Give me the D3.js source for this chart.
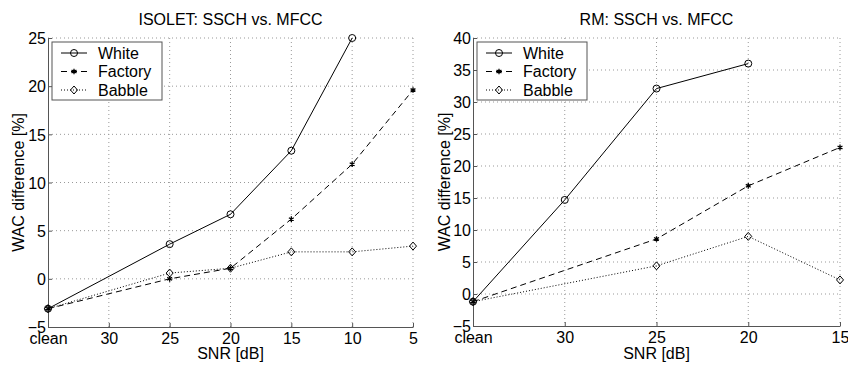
<!DOCTYPE html>
<html>
<head>
<meta charset="utf-8">
<script src="https://cdn.jsdelivr.net/npm/d3@7"></script>
<style>
  body { margin: 0; background: #fff; }
  text { font-family: "Liberation Sans", Arial, Helvetica, sans-serif; fill: #000; }
</style>
</head>
<body>
<div id="chart"></div>
<script>
var svgWidth = 848;
var svgHeight = 365;

// ISOLET panel
var isoletCategories = ["clean", "30", "25", "20", "15", "10", "5"];
var isoletWhite   = [["clean", -3.1], ["25", 3.6], ["20", 6.7], ["15", 13.3], ["10", 25.0]];
var isoletFactory = [["clean", -3.1], ["25", 0.0], ["20", 1.1], ["15", 6.2], ["10", 11.9], ["5", 19.6]];
var isoletBabble  = [["clean", -3.1], ["25", 0.6], ["20", 1.1], ["15", 2.8], ["10", 2.8], ["5", 3.4]];
var isoletYTicks  = [-5, 0, 5, 10, 15, 20, 25];

// RM panel
var rmCategories = ["clean", "30", "25", "20", "15"];
var rmWhite   = [["clean", -1.2], ["30", 14.7], ["25", 32.1], ["20", 36.0]];
var rmFactory = [["clean", -1.2], ["25", 8.6], ["20", 16.9], ["15", 22.9]];
var rmBabble  = [["clean", -1.2], ["25", 4.4], ["20", 9.0], ["15", 2.2]];
var rmYTicks  = [-5, 0, 5, 10, 15, 20, 25, 30, 35, 40];

var seriesNames = ["White", "Factory", "Babble"];

var svg = d3.select("#chart")
    .append("svg")
    .attr("width", svgWidth)
    .attr("height", svgHeight);

var styles = {
    White:   { dash: null,  marker: "circle" },
    Factory: { dash: "6,4", marker: "star" },
    Babble:  { dash: "1,2", marker: "diamond" }
};

function drawMarker(g, type, x, y) {
    if (type === "circle") {
        g.append("circle").attr("cx", x).attr("cy", y).attr("r", 3.5)
            .attr("fill", "none").attr("stroke", "#000").attr("stroke-width", 1);
    } else if (type === "diamond") {
        g.append("path")
            .attr("d", "M" + x + "," + (y - 4) + "L" + (x + 3.5) + "," + y + "L" + x + "," + (y + 4) + "L" + (x - 3.5) + "," + y + "Z")
            .attr("fill", "none").attr("stroke", "#000").attr("stroke-width", 1);
    } else {
        g.append("path")
            .attr("d", d3.symbol().type(d3.symbolAsterisk).size(22)())
            .attr("transform", "translate(" + x + "," + y + ")")
            .attr("fill", "none").attr("stroke", "#000").attr("stroke-width", 1.3);
    }
}

function drawPanel(opts) {
    var x = d3.scalePoint().domain(opts.categories).range([opts.left, opts.right]);
    var y = d3.scaleLinear().domain([-5, opts.yMax]).range([opts.bottom, opts.top]);
    var g = svg.append("g");

    // grid
    g.selectAll(".gx").data(opts.categories.slice(1)).enter().append("line")
        .attr("x1", function(d) { return x(d); }).attr("x2", function(d) { return x(d); })
        .attr("y1", opts.top).attr("y2", opts.bottom)
        .attr("stroke", "#999").attr("stroke-width", 1).attr("stroke-dasharray", "1,3");
    g.selectAll(".gy").data(opts.yTicks.slice(1)).enter().append("line")
        .attr("x1", opts.left).attr("x2", opts.right)
        .attr("y1", function(d) { return y(d); }).attr("y2", function(d) { return y(d); })
        .attr("stroke", "#999").attr("stroke-width", 1).attr("stroke-dasharray", "1,3");

    // axes
    var bottomAxis = d3.axisBottom(x).tickSizeInner(-4).tickSizeOuter(0).tickPadding(6);
    var leftAxis = d3.axisLeft(y).tickValues(opts.yTicks).tickSizeInner(-4).tickSizeOuter(0).tickPadding(2)
        .tickFormat(function(d) { return d < 0 ? "\u2212" + (-d) : d; });

    var xa = g.append("g").attr("transform", "translate(0," + opts.bottom + ")").call(bottomAxis);
    var ya = g.append("g").attr("transform", "translate(" + opts.left + ",0)").call(leftAxis);
    [xa, ya].forEach(function(a) {
        a.select(".domain").attr("stroke", "#555");
        a.selectAll(".tick line").attr("stroke", "#555");
        a.selectAll("text").style("font-size", "16px").attr("fill", "#000")
            .style("font-family", "'Liberation Sans', Arial, Helvetica, sans-serif");
    });
    ya.selectAll("text").attr("dy", "0.36em");
    xa.selectAll("text").attr("dy", "0.71em");

    // series
    var line = d3.line().x(function(d) { return x(d[0]); }).y(function(d) { return y(d[1]); });
    seriesNames.forEach(function(name) {
        var data = opts.series[name];
        g.append("path").datum(data).attr("d", line)
            .attr("fill", "none").attr("stroke", "#000").attr("stroke-width", 1)
            .attr("stroke-dasharray", styles[name].dash);
        data.forEach(function(d) { drawMarker(g, styles[name].marker, x(d[0]), y(d[1])); });
    });

    // titles and labels
    g.append("text").attr("x", (opts.left + opts.right) / 2).attr("y", 25)
        .attr("text-anchor", "middle").style("font-size", "16px").text(opts.title);
    g.append("text").attr("x", (opts.left + opts.right) / 2).attr("y", 359)
        .attr("text-anchor", "middle").style("font-size", "16px").text("SNR [dB]");
    g.append("text").attr("transform", "translate(" + opts.yLabelX + "," + ((opts.top + opts.bottom) / 2) + ") rotate(-90)")
        .attr("text-anchor", "middle").style("font-size", "16px").text("WAC difference [%]");

    // legend
    var lg = g.append("g").attr("transform", "translate(" + (opts.left + 4) + "," + (opts.top + 4) + ")");
    lg.append("rect").attr("width", opts.legendW).attr("height", 58)
        .attr("fill", "#fff").attr("stroke", "#555").attr("stroke-width", 1);
    seriesNames.forEach(function(name, i) {
        var ly = 11 + i * 18.5;
        lg.append("line").attr("x1", 9).attr("x2", 35).attr("y1", ly).attr("y2", ly)
            .attr("stroke", "#000").attr("stroke-width", 1).attr("stroke-dasharray", styles[name].dash);
        drawMarker(lg, styles[name].marker, 22, ly);
        lg.append("text").attr("x", 46).attr("y", ly).attr("dy", "0.36em")
            .style("font-size", "16px").text(name);
    });
}

drawPanel({
    title: "ISOLET: SSCH vs. MFCC",
    categories: isoletCategories,
    yTicks: isoletYTicks,
    yMax: 25,
    left: 48, right: 413, top: 38, bottom: 327,
    yLabelX: 24,
    legendW: 110,
    series: { White: isoletWhite, Factory: isoletFactory, Babble: isoletBabble }
});

drawPanel({
    title: "RM: SSCH vs. MFCC",
    categories: rmCategories,
    yTicks: rmYTicks,
    yMax: 40,
    left: 473, right: 840, top: 38, bottom: 326,
    yLabelX: 450,
    legendW: 110,
    series: { White: rmWhite, Factory: rmFactory, Babble: rmBabble }
});
</script>
</body>
</html>
